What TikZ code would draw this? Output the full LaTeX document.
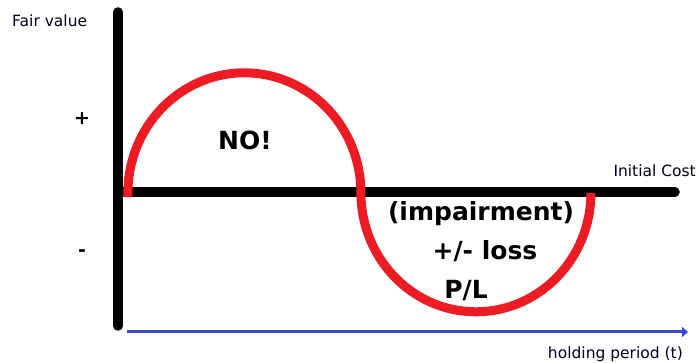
\documentclass[tikz,border=0pt]{standalone}
\usepackage{fontspec}
\setmainfont{DejaVu Sans}
\usetikzlibrary{arrows.meta}
\definecolor{axisred}{HTML}{ED1C24}
\definecolor{axisblue}{HTML}{3F48CC}
\begin{document}
\begin{tikzpicture}[x=1pt,y=-1pt,
  axisline/.style={line width=9.5pt,line cap=round,black},
  curveline/.style={line width=9pt,axisred},
  smalltext/.style={font=\fontsize{15.5}{18}\selectfont,text=black!90!blue,inner sep=0pt},
  bigtext/.style={font=\bfseries\fontsize{25}{29}\selectfont,inner sep=0pt},
  signtext/.style={font=\bfseries\fontsize{19}{22}\selectfont,inner sep=0pt}]
\useasboundingbox (0,0) rectangle (699,363);
\coordinate (vtop) at (118,12);
\coordinate (vbot) at (118,326);
\coordinate (origin) at (118,192);
\coordinate (hend) at (675,192);
\coordinate (tstart) at (127,332);
\coordinate (tend) at (688,332);
\coordinate (cstart) at (128,197);
\draw[axisline] (vtop) -- (vbot);
\draw[axisline] (origin) -- (hend);
\draw[curveline] (cstart) arc[start angle=178,end angle=360,x radius=116.5,y radius=120] coordinate (mid)
  arc[start angle=180,end angle=0,x radius=115,y radius=119] coordinate (cend);
\draw[-{Triangle[length=6pt,width=10pt]},line width=3pt,axisblue] (tstart) -- (tend);
\node[smalltext,anchor=west] (fv) at (12,21) {Fair value};
\node[smalltext,anchor=east] (ic) at (696,171) {Initial Cost};
\node[smalltext,anchor=east] (hp) at (683,354) {holding period (t)};
\node[signtext] (plus) at (82,119) {+};
\node[signtext] (minus) at (82,253) {-};
\node[bigtext] (no) at (245,140) {NO!};
\node[bigtext] (imp) at (481,214) {(impairment)};
\node[bigtext] (loss) at (485,251) {+/- loss};
\node[bigtext] (pl) at (466,291) {P/L};
\end{tikzpicture}
\end{document}
